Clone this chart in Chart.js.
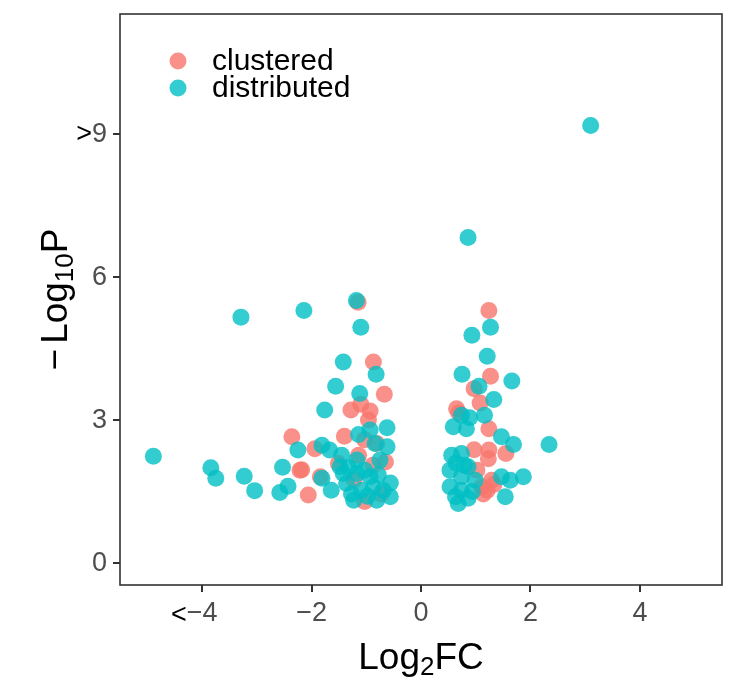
<!DOCTYPE html>
<html>
<head>
<meta charset="utf-8">
<script src="https://cdn.jsdelivr.net/npm/chart.js@4"></script>
<style>
  html, body { margin: 0; padding: 0; background: #fff; }
  #wrap { width: 734px; height: 684px; }
</style>
</head>
<body>
<div id="wrap"><canvas id="volcano" width="734" height="684"></canvas></div>
<script>
// log2 fold change / -log10 p for each gene group
const clusteredX = [-1.15, -0.87, -0.67, -1.10, -1.28, -0.93, -0.96, -1.40, -2.36, -1.03, -0.81, -1.94,
  -1.14, -0.65, -1.51, -2.18, -1.84, -2.06, -1.03, -2.21, -0.88, -1.22, -0.73,
  1.24, 1.27, 0.97, 1.08, 0.65, 1.24, 1.55, 0.97, 1.24, 1.23, 1.02, 1.29, 1.11, 1.21, 1.33, 1.14, 0.69];
const clusteredY = [5.47, 4.22, 3.54, 3.33, 3.21, 3.19, 3.00, 2.66, 2.65, 2.59, 2.51, 2.40,
  2.26, 2.12, 2.09, 1.96, 1.81, 1.43, 1.29, 1.95, 2.05, 1.75, 1.45,
  5.30, 3.92, 3.66, 3.36, 3.24, 2.82, 2.30, 2.38, 2.37, 2.19, 1.95, 1.74, 1.60, 1.53, 1.65, 1.45, 3.15];

const distributedX = [3.10, 0.86,
  -4.89, -3.84, -3.75, -3.23, -3.04, -2.53, -2.25, -2.43, -2.58, -3.29, -2.14, -1.18, -1.10, -1.42,
  -0.82, -1.56, -1.12, -1.76, -0.62, -0.93, -1.14, -0.62, -0.84, -1.81, -1.67, -1.45, -1.48, -1.81,
  -1.64, -1.23, -0.81, -0.69, -0.56, -0.93, -1.17, -1.42, -1.36, -1.09, -0.56, -0.87, -0.75, -1.17,
  -1.27, -0.98, -0.78, -1.32, -1.03,
  0.93, 1.21, 1.27, 0.75, 1.66, 1.06, 1.33, 0.74, 1.16, 0.59, 0.83, 1.47, 1.69, 2.34, 0.56, 0.74,
  0.53, 0.86, 1.47, 1.63, 1.87, 0.53, 0.74, 0.63, 0.86, 1.54, 0.99, 0.74, 0.68, 0.89, 0.79, 0.94, 0.64];
const distributedY = [9.18, 6.83,
  2.24, 2.00, 1.78, 1.82, 1.52, 2.01, 2.37, 1.61, 1.48, 5.16, 5.30, 5.51, 4.95, 4.22,
  3.96, 3.71, 3.56, 3.21, 2.84, 2.79, 2.70, 2.44, 2.51, 2.47, 2.37, 2.26, 2.02, 1.78,
  1.53, 1.32, 1.32, 1.53, 1.68, 1.81, 1.88, 1.88, 1.67, 1.53, 1.39, 1.60, 2.16, 2.16,
  1.45, 1.40, 1.85, 2.00, 1.95,
  4.78, 4.34, 4.95, 3.96, 3.82, 3.71, 3.43, 3.10, 3.10, 2.86, 2.82, 2.65, 2.49, 2.49, 2.26, 2.30,
  1.95, 2.02, 1.81, 1.74, 1.81, 1.60, 1.53, 1.39, 1.36, 1.39, 1.74, 1.81, 1.25, 3.05, 2.05, 1.50, 2.10];

const xTicks = [-4, -2, 0, 2, 4];
const yTicks = [0, 3, 6, 9];
const groups = ['clustered', 'distributed'];
const colors = ['rgba(248,118,109,0.8)', 'rgba(0,191,196,0.8)'];

const FONT = "'Liberation Sans', Arial, sans-serif";
const TICK_SIZE = 27;

function pts(xs, ys) {
  return xs.map((x, i) => ({ x: x, y: ys[i] }));
}

function minus(v) {
  return v < 0 ? '\u2212' + Math.abs(v) : String(v);
}

// panel border, clipped-value markers, axis titles and legend
const decor = {
  id: 'decor',
  afterDraw(chart) {
    const c = chart.ctx;
    const a = chart.chartArea;
    const xs = chart.scales.x, ys = chart.scales.y;
    c.save();

    c.strokeStyle = '#333';
    c.lineWidth = 1.6;
    c.strokeRect(a.left, a.top, a.right - a.left, a.bottom - a.top);

    // "<" before the lowest x tick, ">" before the top y tick
    c.font = TICK_SIZE + 'px ' + FONT;
    c.fillStyle = '#000';
    c.textBaseline = 'top';
    const lab = minus(xTicks[0]);
    const lw = c.measureText(lab).width;
    c.textAlign = 'right';
    c.fillText('<', xs.getPixelForValue(xTicks[0]) - lw / 2, a.bottom + 17);
    c.textBaseline = 'middle';
    const top = yTicks[yTicks.length - 1];
    const tw = c.measureText(String(top)).width;
    c.fillText('>', a.left - 13 - tw, ys.getPixelForValue(top));

    // x title: Log2FC
    c.fillStyle = '#000';
    c.textBaseline = 'alphabetic';
    c.textAlign = 'left';
    const big = '37px ' + FONT, small = '26px ' + FONT;
    c.font = big;
    const w1 = c.measureText('Log').width, w3 = c.measureText('FC').width;
    c.font = small;
    const w2 = c.measureText('2').width;
    let x0 = (a.left + a.right) / 2 - (w1 + w2 + w3) / 2;
    const base = 669;
    c.font = big; c.fillText('Log', x0, base);
    c.font = small; c.fillText('2', x0 + w1, base + 6);
    c.font = big; c.fillText('FC', x0 + w1 + w2, base);

    // y title: -Log10P
    c.translate(67, (a.top + a.bottom) / 2);
    c.rotate(-Math.PI / 2);
    c.font = big;
    const m = c.measureText('\u2212').width, gap = 5;
    const l = c.measureText('Log').width, p = c.measureText('P').width;
    c.font = small;
    const s = c.measureText('10').width;
    let t = -(m + gap + l + s + p) / 2;
    c.font = big; c.fillText('\u2212', t, 0); t += m + gap;
    c.fillText('Log', t, 0); t += l;
    c.font = small; c.fillText('10', t, 6); t += s;
    c.font = big; c.fillText('P', t, 0);
    c.restore();

    // legend
    c.save();
    c.font = '30px ' + FONT;
    c.textBaseline = 'middle';
    c.textAlign = 'left';
    groups.forEach((g, i) => {
      const y = 61 + i * 27;
      c.fillStyle = colors[i];
      c.beginPath();
      c.arc(178, y, 8.5, 0, Math.PI * 2);
      c.fill();
      c.fillStyle = '#000';
      c.fillText(g, 212, y + 1);
    });
    c.restore();
  }
};

new Chart(document.getElementById('volcano'), {
  type: 'scatter',
  data: {
    datasets: [
      { label: groups[0], data: pts(clusteredX, clusteredY), backgroundColor: colors[0],
        borderWidth: 0, pointRadius: 8.5, pointHoverRadius: 8.5, order: 2 },
      { label: groups[1], data: pts(distributedX, distributedY), backgroundColor: colors[1],
        borderWidth: 0, pointRadius: 8.5, pointHoverRadius: 8.5, order: 1 }
    ]
  },
  options: {
    responsive: false,
    animation: false,
    devicePixelRatio: 1,
    layout: { padding: { left: 0, right: 12, top: 14, bottom: 0 } },
    plugins: { legend: { display: false }, tooltip: { enabled: false } },
    scales: {
      x: {
        type: 'linear',
        min: -5.5,
        max: 5.5,
        afterBuildTicks: (s) => { s.ticks = xTicks.map(v => ({ value: v })); },
        afterFit: (s) => { s.height = 99; s.paddingLeft = 0; s.paddingRight = 0; },
        ticks: { callback: (v) => minus(v), color: '#4d4d4d', font: { size: TICK_SIZE, family: FONT }, padding: 5, maxRotation: 0 },
        grid: { drawOnChartArea: false, drawTicks: true, tickLength: 7, color: '#333', lineWidth: 2 },
        border: { display: false }
      },
      y: {
        type: 'linear',
        min: -0.46,
        max: 11.52,
        afterBuildTicks: (s) => { s.ticks = yTicks.map(v => ({ value: v })); },
        afterFit: (s) => { s.width = 120; s.paddingTop = 0; s.paddingBottom = 0; },
        ticks: { callback: (v) => String(v), color: '#4d4d4d', font: { size: TICK_SIZE, family: FONT }, padding: 6 },
        grid: { drawOnChartArea: false, drawTicks: true, tickLength: 7, color: '#333', lineWidth: 2 },
        border: { display: false }
      }
    }
  },
  plugins: [decor]
});
</script>
</body>
</html>
